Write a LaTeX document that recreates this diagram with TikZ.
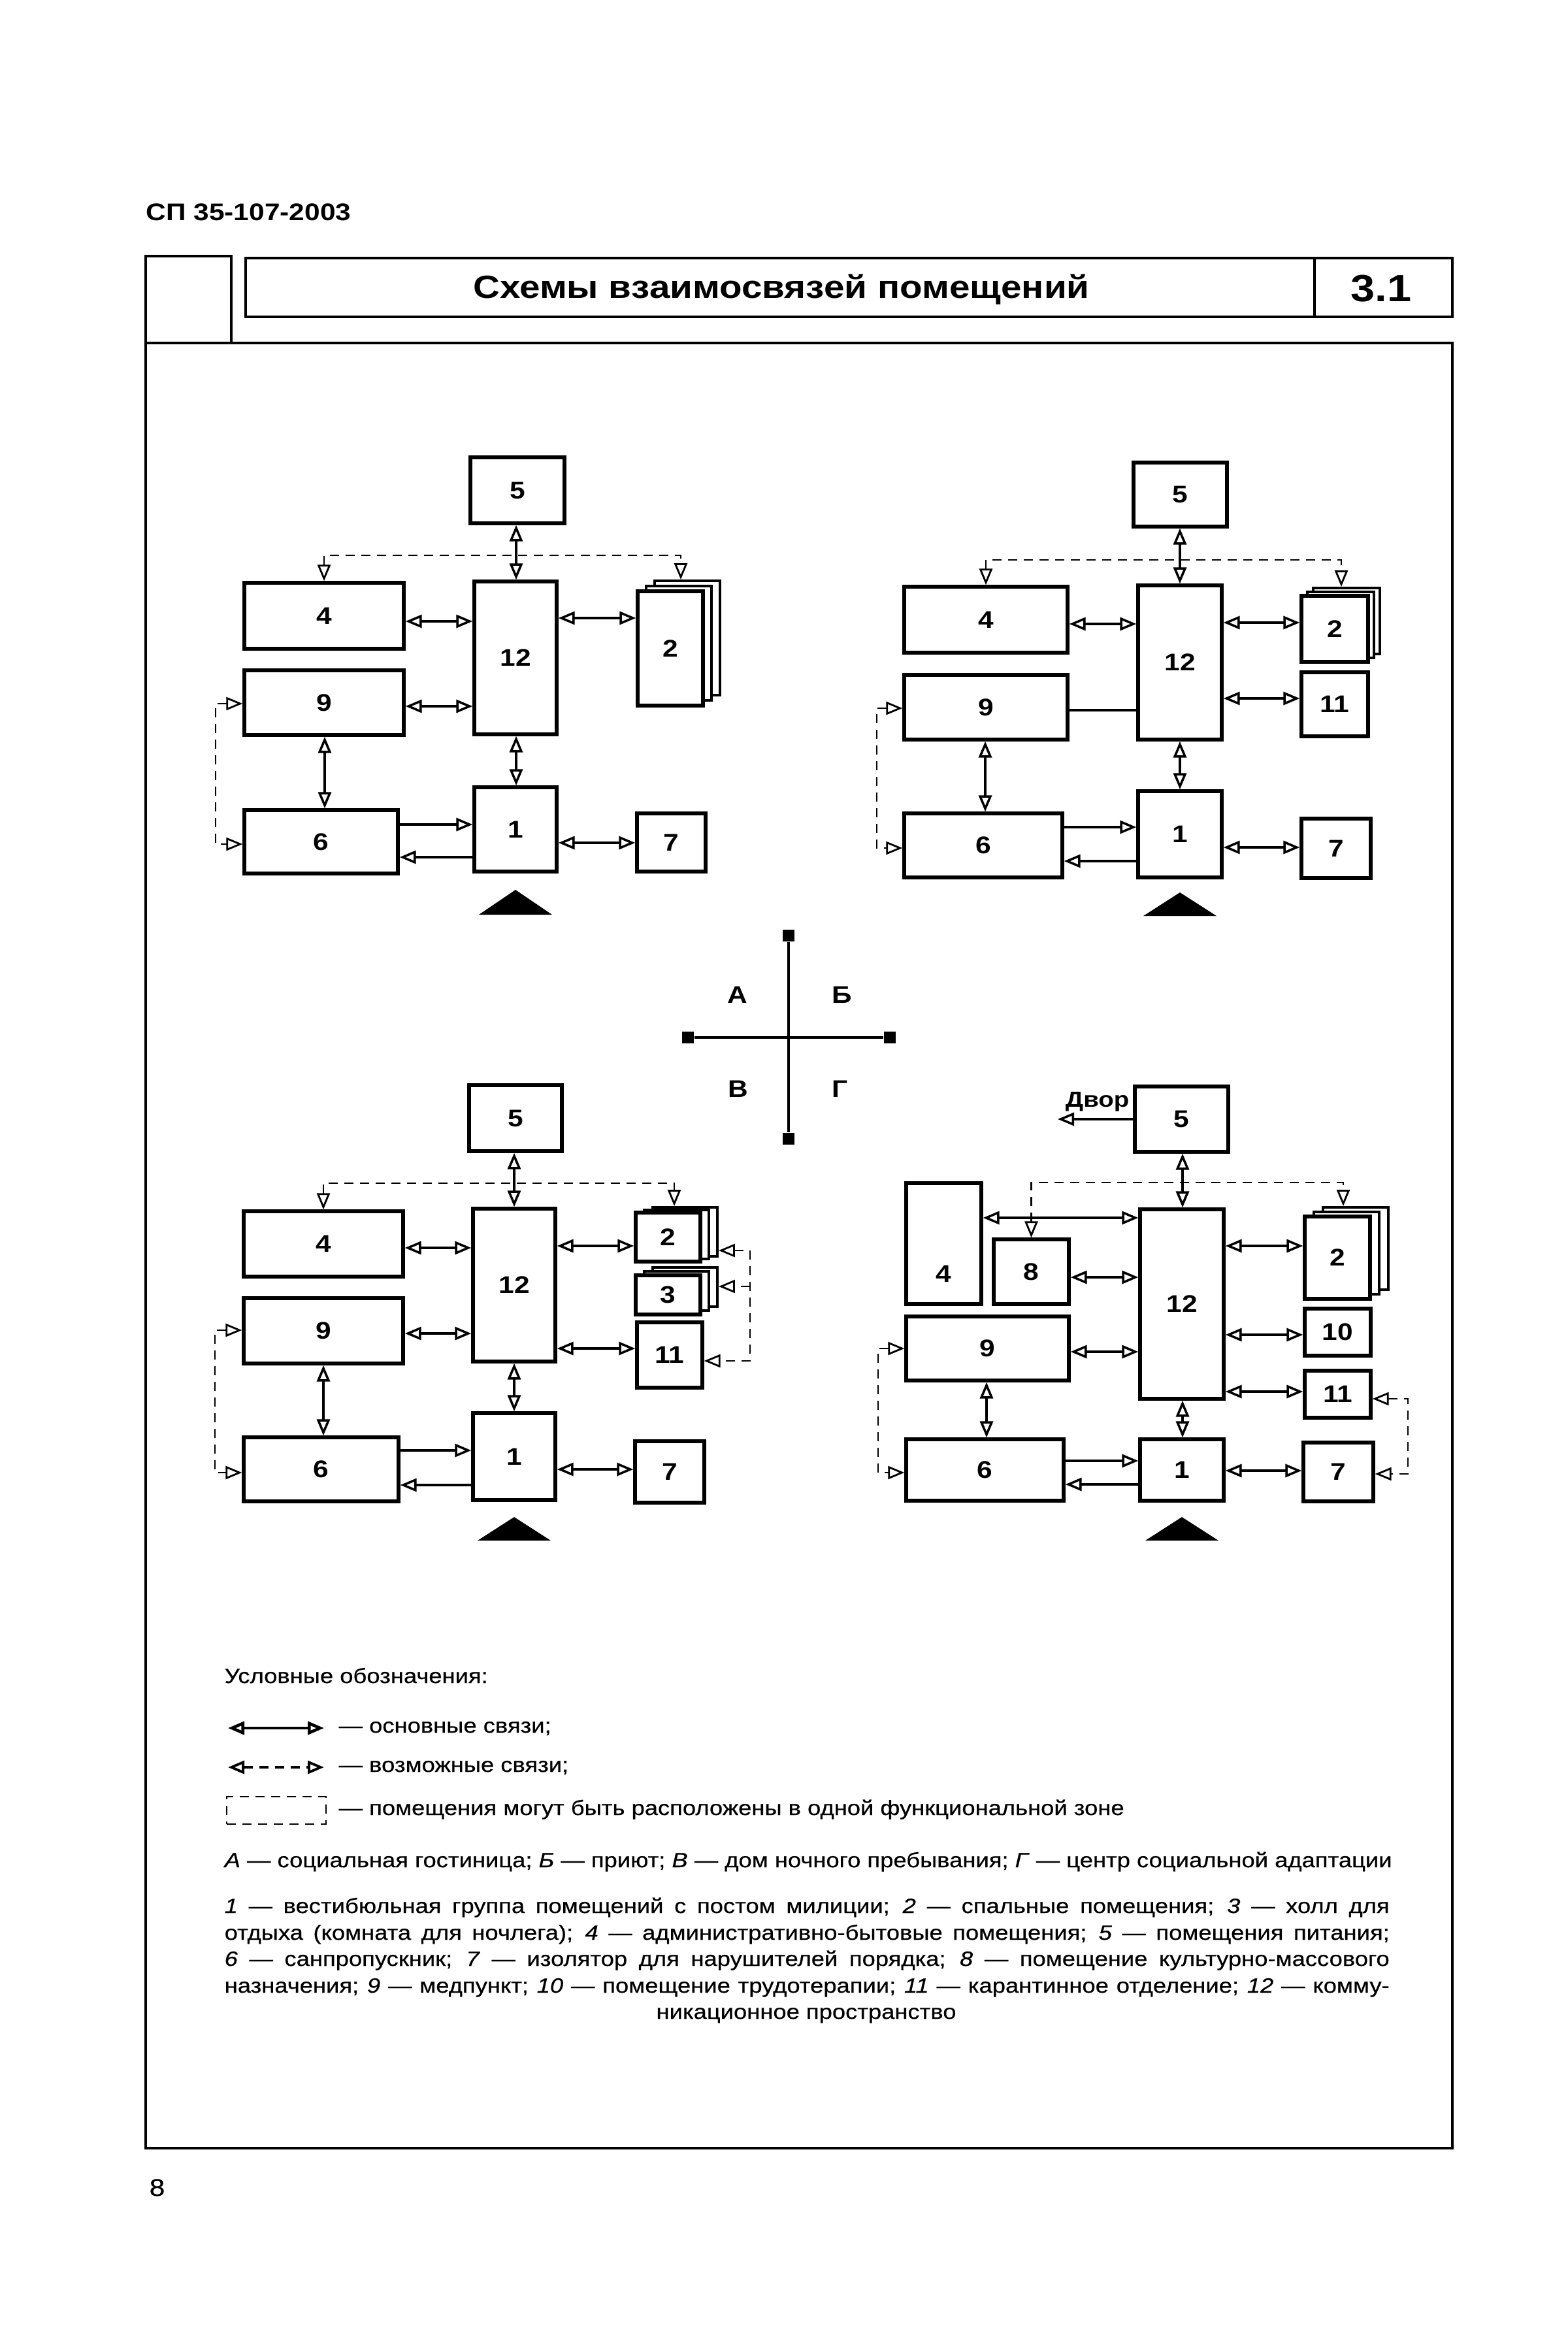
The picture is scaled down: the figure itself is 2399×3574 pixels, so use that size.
\documentclass[tikz,border=0pt]{standalone}
\usepackage{fontspec}
\setmainfont{Liberation Sans}[FakeStretch=1.15]
\newfontfamily\lgf{Liberation Sans}[FakeStretch=1.15,FakeBold=0.6]
\usetikzlibrary{arrows.meta}
\tikzset{
  otri/.tip={Triangle[open,length=2.5mm,width=2.0mm]},
  frm/.style={line width=1.1pt},
  box/.style={draw,line width=1.5pt,inner sep=0pt,fill=white,font=\bfseries\fontsize{10.5}{12}\selectfont},
  lay/.style={draw,line width=1.1pt,inner sep=0pt,fill=white},
  ma/.style={line width=1pt,arrows={otri-otri}},
  mo/.style={line width=1pt,arrows={-otri}},
  pl/.style={line width=1pt},
  dsh/.style={line width=0.8pt,dash pattern=on 1.4mm off 1.0mm},
  lg/.style={inner sep=0pt,anchor=base west,font=\lgf\fontsize{9}{11}\selectfont},
  lbl/.style={inner sep=0pt,font=\bfseries\fontsize{10.5}{12}\selectfont},
  sq/.style={fill=black,inner sep=0pt,minimum size=1.8mm},
}
\newcommand\bx[6]{\node[box,minimum width={(#4-#2)*0.1mm},minimum height={(#5-#3)*0.1mm}] (#1) at ({(#2+#4)/2},{(#3+#5)/2}) {#6};}
\newcommand\stk[8]{%
  \node[lay,minimum width={(#4-#2)*0.1mm},minimum height={(#5-#3)*0.1mm}] (#1c) at ({(#2+#4)/2+2*(#6)},{(#3+#5)/2+2*(#7)}) {};
  \node[lay,minimum width={(#4-#2)*0.1mm},minimum height={(#5-#3)*0.1mm}] (#1b) at ({(#2+#4)/2+(#6)},{(#3+#5)/2+(#7)}) {};
  \node[box,minimum width={(#4-#2)*0.1mm},minimum height={(#5-#3)*0.1mm}] (#1) at ({(#2+#4)/2},{(#3+#5)/2}) {#8};}
\begin{document}
\begin{tikzpicture}[x=0.1mm,y=-0.1mm]
\useasboundingbox[fill=white] (0,0) rectangle (2399,3574);
% ---------- header and frame
\node[anchor=base west,inner sep=0pt,font=\bfseries\fontsize{10.5}{12}\selectfont] (sp) at (223,338) {СП 35-107-2003};
\draw[frm] (223,392) rectangle (354,525);
\draw[frm] (376,395) rectangle (2223,485);
\draw[frm] (2012,395) -- (2012,485);
\draw[frm] (223,525) rectangle (2223,3288);
\node[anchor=base,inner sep=0pt,font=\bfseries\fontsize{14}{16}\selectfont] (ttl) at (1196,457) {Схемы взаимосвязей помещений};
\node[anchor=base,inner sep=0pt,font=\bfseries\fontsize{16.5}{18}\selectfont] (num) at (2114,462) {3.1};
\node[anchor=base west,inner sep=0pt,font=\lgf\fontsize{10.5}{12}\selectfont] (pg) at (228,3361) {8};
% ---------- A
\bx{A5}{720}{700}{864}{801}{5}
\bx{A4}{374}{892}{618}{993}{4}
\bx{A12}{726}{890}{852}{1124}{12}
\stk{A2}{976}{905}{1076}{1080}{13}{-8}{2}
\bx{A9}{374}{1026}{618}{1125}{9}
\bx{A6}{374}{1240}{609}{1337}{6}
\bx{A1}{726}{1205}{852}{1334}{1}
\bx{A7}{975}{1245}{1080}{1334}{7}
\fill (789,1362) -- (845,1400) -- (733,1400) -- cycle;
\draw[ma] (A5.south -| 790,0) -- (A12.north -| 790,0);
\draw[ma] (A4.east |- 0,951) -- (A12.west |- 0,951);
\draw[ma] (A12.east |- 0,946) -- (A2.west |- 0,946);
\draw[ma] (A9.east |- 0,1081) -- (A12.west |- 0,1081);
\draw[ma] (A9.south -| 497,0) -- (A6.north -| 497,0);
\draw[ma] (A12.south -| 790,0) -- (A1.north -| 790,0);
\draw[mo] (A6.east |- 0,1262) -- (A1.west |- 0,1262);
\draw[mo] (A1.west |- 0,1312) -- (A6.east |- 0,1312);
\draw[ma] (A1.east |- 0,1290) -- (A7.west |- 0,1290);
\draw[dsh,arrows={otri-otri}] (A4.north) -- (A4.north |- 0,850) -| (A2c.north -| 1042,0);
\draw[dsh,arrows={otri-otri}] (A9.west |- 0,1077) -- (330,1077) -- (330,1292) -- (A6.west |- 0,1292);
% ---------- B
\bx{B5}{1735}{708}{1878}{806}{5}
\bx{B4}{1384}{898}{1634}{999}{4}
\bx{B12}{1742}{896}{1870}{1132}{12}
\stk{B2}{1992}{912}{2094}{1013}{9}{-6}{2}
\bx{B11}{1992}{1029}{2094}{1127}{11}
\bx{B9}{1384}{1033}{1634}{1132}{9}
\bx{B6}{1384}{1245}{1626}{1343}{6}
\bx{B1}{1742}{1211}{1870}{1343}{1}
\bx{B7}{1992}{1253}{2098}{1344}{7}
\fill (1806,1366) -- (1862,1402) -- (1750,1402) -- cycle;
\draw[ma] (B5.south -| 1806,0) -- (B12.north -| 1806,0);
\draw[ma] (B4.east |- 0,955) -- (B12.west |- 0,955);
\draw[ma] (B12.east |- 0,953) -- (B2.west |- 0,953);
\draw[ma] (B12.east |- 0,1069) -- (B11.west |- 0,1069);
\draw[pl] (B9.east |- 0,1087) -- (B12.west |- 0,1087);
\draw[ma] (B9.south -| 1508,0) -- (B6.north -| 1508,0);
\draw[ma] (B12.south -| 1806,0) -- (B1.north -| 1806,0);
\draw[mo] (B6.east |- 0,1266) -- (B1.west |- 0,1266);
\draw[mo] (B1.west |- 0,1318) -- (B6.east |- 0,1318);
\draw[ma] (B1.east |- 0,1297) -- (B7.west |- 0,1297);
\draw[dsh,arrows={otri-otri}] (B4.north) -- (B4.north |- 0,857) -| (B2c.north -| 2053,0);
\draw[dsh,arrows={otri-otri}] (B9.west |- 0,1084) -- (1342,1084) -- (1342,1298) -- (B6.west |- 0,1298);
% ---------- V
\bx{V5}{718}{1661}{860}{1762}{5}
\bx{V4}{373}{1854}{617}{1954}{4}
\bx{V12}{724}{1850}{850}{2084}{12}
\stk{V2}{973}{1856}{1072}{1931}{13}{-4}{2}
\stk{V3}{973}{1952}{1072}{2012}{13}{-6}{3}
\bx{V11}{975}{2024}{1075}{2124}{11}
\bx{V9}{373}{1987}{617}{2087}{9}
\bx{V6}{373}{2200}{610}{2298}{6}
\bx{V1}{724}{2163}{850}{2296}{1}
\bx{V7}{972}{2206}{1078}{2300}{7}
\fill (787,2322) -- (843,2358) -- (731,2358) -- cycle;
\draw[ma] (V5.south -| 787,0) -- (V12.north -| 787,0);
\draw[ma] (V4.east |- 0,1910) -- (V12.west |- 0,1910);
\draw[ma] (V12.east |- 0,1907) -- (V2.west |- 0,1907);
\draw[ma] (V12.east |- 0,2064) -- (V11.west |- 0,2064);
\draw[ma] (V9.east |- 0,2041) -- (V12.west |- 0,2041);
\draw[ma] (V9.south -| 495,0) -- (V6.north -| 495,0);
\draw[ma] (V12.south -| 787,0) -- (V1.north -| 787,0);
\draw[mo] (V6.east |- 0,2220) -- (V1.west |- 0,2220);
\draw[mo] (V1.west |- 0,2273) -- (V6.east |- 0,2273);
\draw[ma] (V1.east |- 0,2249) -- (V7.west |- 0,2249);
\draw[dsh,arrows={otri-otri}] (V4.north) -- (V4.north |- 0,1811) -| (V2c.north -| 1032,0);
\draw[dsh,arrows={otri-otri}] (V9.west |- 0,2036) -- (329,2036) -- (329,2254) -- (V6.west |- 0,2254);
\draw[dsh,arrows={otri-otri}] (V2c.east |- 0,1914) -- (1148,1914) -- (1148,2083) -- (V11.east |- 0,2083);
\coordinate (Vj) at (1148,1969);
\draw[dsh,arrows={-otri}] (Vj) -- (V3c.east |- 0,1969);
% ---------- G
\bx{G5}{1737}{1663}{1880}{1763}{5}
\node[anchor=base east,inner sep=0pt,font=\bfseries\fontsize{9.5}{11}\selectfont] (dvor) at (1729,1694) {Двор};
\coordinate (dvE) at (1619,1713);
\draw[mo] (G5.west |- 0,1713) -- (dvE);
\bx{G4}{1387}{1811}{1502}{1996}{}
\node[lbl] (G4t) at (1444,1950) {4};
\bx{G8}{1521}{1897}{1636}{1996}{8}
\bx{G12}{1745}{1851}{1873}{2141}{12}
\stk{G2}{1997}{1862}{2097}{1988}{14}{-7}{2}
\bx{G10}{1997}{2003}{2098}{2075}{10}
\bx{G11}{1997}{2098}{2098}{2170}{11}
\bx{G9}{1387}{2015}{1636}{2113}{9}
\bx{G6}{1387}{2203}{1628}{2297}{6}
\bx{G1}{1745}{2203}{1873}{2297}{1}
\bx{G7}{1995}{2208}{2102}{2298}{7}
\fill (1809,2322) -- (1865,2358) -- (1753,2358) -- cycle;
\draw[ma] (G5.south -| 1810,0) -- (G12.north -| 1810,0);
\draw[ma] (G4.east |- 0,1864) -- (G12.west |- 0,1864);
\draw[ma] (G8.east |- 0,1955) -- (G12.west |- 0,1955);
\draw[ma] (G12.east |- 0,1907) -- (G2.west |- 0,1907);
\draw[ma] (G12.east |- 0,2043) -- (G10.west |- 0,2043);
\draw[ma] (G9.east |- 0,2069) -- (G12.west |- 0,2069);
\draw[ma] (G12.east |- 0,2130) -- (G11.west |- 0,2130);
\draw[ma] (G9.south -| 1510,0) -- (G6.north -| 1510,0);
\draw[ma] (G12.south -| 1810,0) -- (G1.north -| 1810,0);
\draw[mo] (G6.east |- 0,2236) -- (G1.west |- 0,2236);
\draw[mo] (G1.west |- 0,2272) -- (G6.east |- 0,2272);
\draw[ma] (G1.east |- 0,2251) -- (G7.west |- 0,2251);
\draw[dsh,arrows={otri-otri}] (G8.north) -- (G8.north |- 0,1810) -| (G2c.north -| 2056,0);
\draw[dsh,arrows={otri-otri}] (G9.west |- 0,2064) -- (1344,2064) -- (1344,2254) -- (G6.west |- 0,2254);
\draw[dsh,arrows={otri-otri}] (G11.east |- 0,2141) -- (2155,2141) -- (2155,2256) -- (G7.east |- 0,2256);
% ---------- cross
\node[sq] (cT) at (1207,1432) {};
\node[sq] (cB) at (1207,1743) {};
\node[sq] (cL) at (1053,1588) {};
\node[sq] (cR) at (1362,1588) {};
\draw[line width=1.1pt] (cT) -- (cB);
\draw[line width=1.1pt] (cL) -- (cR);
\node[lbl] (lA) at (1129,1523) {А};
\node[lbl] (lB) at (1289,1523) {Б};
\node[lbl] (lV) at (1130,1667) {В};
\node[lbl] (lG) at (1286,1667) {Г};
% ---------- legend
\node[lg] (lgT) at (343,2576) {Условные обозначения:};
\coordinate (l1a) at (349,2645); \coordinate (l1b) at (496,2645);
\draw[ma,line width=1.3pt] (l1a) -- (l1b);
\node[lg] (lg1) at (518,2652) {— основные связи;};
\coordinate (l2a) at (349,2705); \coordinate (l2b) at (496,2705);
\draw[dsh,line width=1.1pt,arrows={otri-otri}] (l2a) -- (l2b);
\node[lg] (lg2) at (518,2712) {— возможные связи;};
\node[draw,dsh,inner sep=0pt,minimum width=15.2mm,minimum height=4.2mm] (lgR) at (423,2771) {};
\node[lg] (lg3) at (518,2778) {— помещения могут быть расположены в одной функциональной зоне};
\node[lg] (lgA) at (343,2858) {\textit{А} — социальная гостиница; \textit{Б} — приют; \textit{В} — дом ночного пребывания; \textit{Г} — центр социальной адаптации};
\node[lg] (p1) at (343,2928) {\makebox[178.3mm][s]{\textit{1} — вестибюльная группа помещений с постом милиции; \textit{2} — спальные помещения; \textit{3} — холл для}};
\node[lg] (p2) at (343,2969) {\makebox[178.3mm][s]{отдыха (комната для ночлега); \textit{4} — административно-бытовые помещения; \textit{5} — помещения питания;}};
\node[lg] (p3) at (343,3009) {\makebox[178.3mm][s]{\textit{6} — санпропускник; \textit{7} — изолятор для нарушителей порядка; \textit{8} — помещение культурно-массового}};
\node[lg] (p4) at (343,3050) {\makebox[178.3mm][s]{назначения; \textit{9} — медпункт; \textit{10} — помещение трудотерапии; \textit{11} — карантинное отделение; \textit{12} — комму-}};
\node[lg,anchor=base] (p5) at (1234,3090) {никационное пространство};
\end{tikzpicture}
\end{document}
